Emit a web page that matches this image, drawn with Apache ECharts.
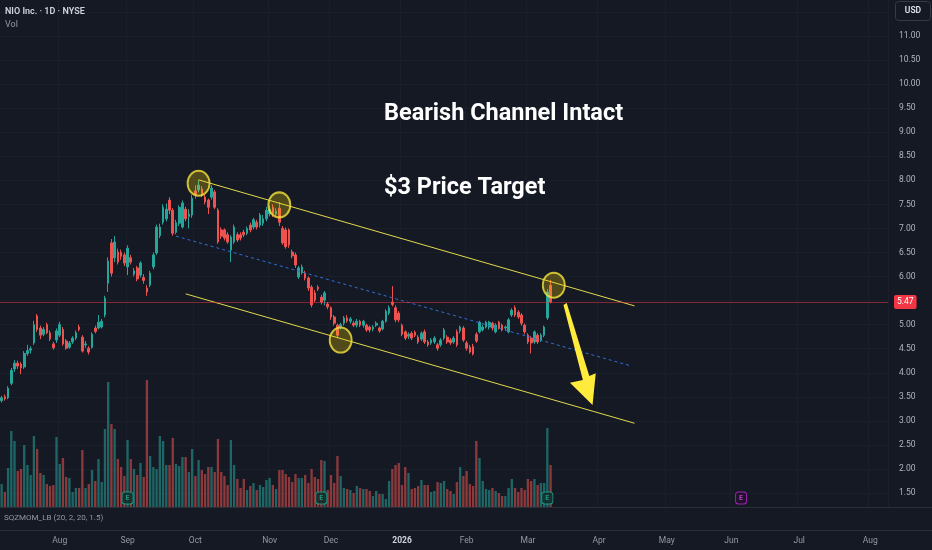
<!DOCTYPE html>
<html>
<head>
<meta charset="utf-8">
<script src="https://cdn.jsdelivr.net/npm/echarts@6/dist/echarts.min.js"></script>
<style>
  html, body { margin: 0; padding: 0; background: #151924; }
  #chart { width: 932px; height: 550px; }
</style>
</head>
<body>
<div id="chart"></div>
<script>
// NIO Inc. daily candles, Jul 2025 - Mar 2026
var opens = [
  3.42,3.50,3.48,3.78,4.08,4.20,4.18,4.12,4.40,4.47,
  4.62,5.18,4.93,4.80,5.00,4.83,4.60,4.68,4.78,4.90,
  4.66,4.53,4.64,4.72,4.95,4.74,4.58,4.51,4.53,4.93,
  4.93,4.95,5.20,5.86,6.70,6.39,6.51,6.50,6.45,6.20,
  6.39,6.05,6.18,6.03,5.98,5.76,5.82,6.20,6.49,6.85,
  7.13,7.20,7.59,7.38,6.92,7.11,7.03,7.40,7.25,7.28,
  7.78,7.80,7.82,7.65,7.59,7.65,7.76,7.38,6.97,6.97,
  6.87,6.55,6.72,6.87,6.87,6.92,6.90,7.07,7.03,7.13,
  7.07,7.11,7.20,7.30,7.44,7.30,7.42,7.00,6.97,6.97,
  6.51,6.45,5.99,6.08,6.07,5.97,5.78,5.66,5.78,5.57,
  5.51,5.43,5.35,5.16,4.99,4.95,5.03,5.14,5.07,5.03,
  4.99,5.07,4.99,4.99,4.95,4.91,4.99,4.93,4.91,5.07,
  5.24,5.47,5.35,5.24,4.99,4.85,4.76,4.82,4.84,4.74,
  4.70,4.85,4.64,4.62,4.64,4.58,4.58,4.72,4.74,4.68,
  4.64,4.85,4.87,4.93,4.62,4.53,4.55,4.80,4.85,4.89,
  4.95,4.95,5.03,4.85,5.05,4.99,4.93,4.85,5.20,5.35,
  5.26,5.20,4.99,4.78,4.72,4.64,4.78,4.68,4.78,5.14,5.82
];
var closes = [
  3.48,3.46,3.68,4.05,4.20,4.14,4.10,4.40,4.46,4.50,
  5.00,4.90,4.78,4.90,4.83,4.70,4.52,4.87,5.00,4.60,
  4.51,4.62,4.72,4.83,4.90,4.45,4.60,4.43,4.80,4.86,
  5.05,5.07,5.55,6.32,6.07,6.72,6.30,6.42,6.28,6.59,
  6.30,6.12,5.95,6.28,5.92,5.68,6.07,6.45,7.03,7.03,
  7.44,7.40,7.38,6.90,7.12,7.44,7.53,7.20,7.30,7.63,
  7.70,7.90,7.70,7.55,7.44,7.84,7.44,6.72,6.84,6.80,
  6.72,6.82,7.03,6.76,6.80,6.87,7.00,6.97,7.18,7.03,
  7.28,7.20,7.38,7.40,7.30,7.36,7.13,6.70,6.62,6.66,
  6.43,6.24,6.18,6.20,5.97,5.76,5.41,5.51,5.74,5.47,
  5.66,5.37,5.16,5.03,4.78,5.00,5.14,5.08,5.12,4.99,
  5.07,4.99,5.07,4.89,4.89,4.95,5.03,4.87,5.07,5.28,
  5.35,5.42,5.10,5.10,4.80,4.72,4.80,4.72,4.78,4.64,
  4.82,4.64,4.58,4.68,4.72,4.51,4.68,4.89,4.64,4.62,
  4.72,4.58,4.95,4.68,4.51,4.43,4.39,4.66,5.05,4.95,
  5.05,5.05,4.93,4.99,4.93,4.89,4.95,5.10,5.30,5.20,
  5.16,5.03,4.85,4.64,4.62,4.85,4.64,4.78,4.95,5.68,5.47
];
var lows = [
  3.38,3.42,3.45,3.74,4.02,4.08,3.97,4.08,4.35,4.40,
  4.58,4.85,4.70,4.76,4.80,4.66,4.48,4.62,4.74,4.56,
  4.48,4.50,4.60,4.68,4.86,4.42,4.52,4.38,4.50,4.82,
  4.90,4.92,5.15,5.68,6.00,6.30,6.25,6.35,6.22,6.03,
  6.25,6.00,5.90,5.98,5.85,5.60,5.78,6.15,6.45,6.80,
  7.08,7.15,7.30,6.85,6.88,7.05,7.00,7.15,7.00,7.22,
  7.62,7.75,7.65,7.50,7.30,7.60,7.40,6.68,6.78,6.75,
  6.68,6.30,6.68,6.72,6.75,6.82,6.86,6.92,6.98,6.98,
  7.02,7.05,7.15,7.25,7.24,7.26,7.05,6.66,6.58,6.60,
  6.38,6.18,5.95,6.04,5.92,5.70,5.36,5.46,5.70,5.42,
  5.40,5.32,5.10,4.98,4.72,4.90,4.98,5.04,5.02,4.95,
  4.94,4.95,4.94,4.85,4.84,4.86,4.95,4.83,4.88,5.04,
  5.20,5.38,5.05,5.05,4.76,4.68,4.70,4.68,4.74,4.60,
  4.66,4.60,4.54,4.58,4.60,4.46,4.54,4.68,4.60,4.58,
  4.60,4.54,4.82,4.64,4.46,4.40,4.36,4.62,4.82,4.86,
  4.92,4.90,4.88,4.82,4.90,4.86,4.88,4.82,5.16,5.16,
  5.12,4.98,4.80,4.60,4.40,4.60,4.60,4.64,4.74,5.10,5.44
];
var highs = [
  3.52,3.55,3.72,4.10,4.26,4.25,4.22,4.45,4.58,4.55,
  5.08,5.22,4.98,4.95,5.04,4.88,4.64,4.92,5.06,4.95,
  4.70,4.66,4.76,4.88,5.00,4.78,4.66,4.55,4.84,4.98,
  5.20,5.12,5.60,6.40,6.78,6.84,6.58,6.56,6.50,6.65,
  6.45,6.18,6.22,6.32,6.05,5.82,6.12,6.50,7.08,7.10,
  7.50,7.52,7.65,7.42,7.18,7.48,7.58,7.45,7.40,7.70,
  7.90,8.00,7.88,7.70,7.62,7.90,7.80,7.42,7.02,7.00,
  6.92,6.86,7.08,6.92,6.92,6.97,7.04,7.12,7.22,7.18,
  7.32,7.28,7.45,7.48,7.50,7.42,7.55,7.05,7.02,7.00,
  6.56,6.50,6.22,6.25,6.12,6.00,5.82,5.72,5.82,5.62,
  5.70,5.47,5.38,5.20,5.02,5.04,5.18,5.20,5.16,5.08,
  5.12,5.10,5.10,5.02,4.98,4.99,5.07,4.96,5.10,5.32,
  5.40,5.80,5.40,5.28,5.02,4.88,4.84,4.86,4.88,4.78,
  4.86,4.90,4.68,4.72,4.76,4.62,4.72,4.93,4.78,4.72,
  4.76,4.90,4.98,4.97,4.66,4.58,4.60,4.84,5.08,5.00,
  5.08,5.08,5.06,5.03,5.08,5.02,4.98,5.14,5.34,5.40,
  5.30,5.24,5.02,4.82,4.76,4.88,4.82,4.82,4.98,5.74,5.93
];
// volume, millions (approx.)
var volumes = [
  23,15,39,76,66,36,38,62,42,32,
  71,58,34,32,23,21,22,70,43,49,
  30,29,15,19,19,57,19,23,37,26,
  48,25,78,125,83,78,48,40,31,67,
  48,38,32,44,30,127,51,40,38,71,
  66,42,42,69,43,41,50,50,35,58,
  31,47,37,33,40,40,35,68,35,31,
  22,67,42,28,19,28,17,21,24,17,
  22,20,27,29,22,18,37,37,33,30,
  25,33,29,29,32,24,38,30,28,47,
  46,17,32,24,51,31,19,18,17,14,
  21,19,18,18,16,11,16,13,13,8,
  26,38,42,44,22,40,34,18,19,21,
  27,22,22,15,16,25,24,26,18,16,
  13,25,40,31,36,23,21,66,49,26,
  18,17,19,16,14,11,11,19,28,19,
  15,19,17,28,26,28,22,24,24,79,42
];

// tick labels on the time scale, in order of month starts
var monthLabels = ['Aug','Sep','Oct','Nov','Dec','2026','Feb','Mar','Apr','May','Jun','Jul','Aug'];
var holidays = ['2025-09-01','2025-11-27','2025-12-25','2026-01-01','2026-01-19','2026-02-16','2026-04-03','2026-05-25','2026-06-19','2026-07-03'];
var totalBars = 275;

// drawings: [bar index, price]
var channelUpper = [[60.5, 8.01], [195.6, 5.39]];
var channelLower = [[57, 5.64], [195.6, 2.95]];
var channelMid   = [[53.6, 6.84], [194.6, 4.14]];
var touchPoints  = [[61.4, 7.94], [86.2, 7.49], [104.8, 4.68], [170.5, 5.82]];
var arrowShape   = [[173.85, 5.41], [175.1, 5.45], [182.2, 3.93], [184.4, 3.99], [182.5, 3.33], [176.0, 3.79], [179.7, 3.85]];
var earnings     = [39, 99, 169];
var nextEarnings = [229];

// trading days
var dates = [];
var d = new Date(Date.UTC(2025, 6, 8));
while (dates.length < totalBars) {
    var wd = d.getUTCDay();
    var s = d.toISOString().slice(0, 10);
    if (wd !== 0 && wd !== 6 && holidays.indexOf(s) < 0) dates.push(s);
    d.setUTCDate(d.getUTCDate() + 1);
}
var monthStarts = [];
for (var i = 1; i < dates.length; i++) {
    if (dates[i].slice(5, 7) !== dates[i - 1].slice(5, 7)) monthStarts.push(i);
}
function isMonthStart(idx) { return monthStarts.indexOf(idx) >= 0; }

var upColor = '#26a69a', downColor = '#ef5350';
var candles = [], vols = [];
for (var i = 0; i < opens.length; i++) {
    candles.push([opens[i], closes[i], lows[i], highs[i]]);
    vols.push({
        value: volumes[i],
        itemStyle: { color: closes[i] >= opens[i] ? 'rgba(38,166,154,0.55)' : 'rgba(239,83,80,0.55)' }
    });
}
var lastClose = closes[closes.length - 1];

var myChart = echarts.init(document.getElementById('chart'));
myChart.setOption({
    backgroundColor: '#151924',
    animation: false,
    textStyle: { fontFamily: 'Roboto' },
    grid: [
        { left: 0, width: 888, top: 12, height: 481 },   // price
        { left: 0, width: 888, top: 0, height: 507 }     // volume overlay
    ],
    xAxis: [
        {
            type: 'category', gridIndex: 0, data: dates,
            axisLine: { show: false }, axisTick: { show: false }, axisLabel: { show: false },
            splitLine: { show: false }
        },
        {
            type: 'category', gridIndex: 1, data: dates,
            axisLine: { show: false }, axisTick: { show: false },
            axisLabel: {
                interval: function (idx) { return isMonthStart(idx); },
                formatter: function (v, idx) {
                    var k = monthStarts.indexOf(idx);
                    var t = k >= 0 ? monthLabels[k] : '';
                    return t === '2026' ? '{y|2026}' : t;
                },
                margin: 29, color: '#9598a1', fontSize: 8.5,
                rich: { y: { fontWeight: 'bold', color: '#d1d4dc', fontSize: 8.5 } }
            },
            splitLine: {
                show: true,
                interval: function (idx) { return isMonthStart(idx); },
                lineStyle: { color: '#1b1f2b', width: 1 }
            }
        }
    ],
    yAxis: [
        {
            type: 'value', gridIndex: 0, position: 'right',
            min: 1.5, max: 11.5, interval: 0.5,
            axisLine: { show: false }, axisTick: { show: false },
            axisLabel: {
                margin: 11, align: 'left', color: '#b2b5be', fontSize: 8.5,
                showMaxLabel: false,
                formatter: function (v) { return v.toFixed(2); }
            },
            splitLine: { lineStyle: { color: '#1b1f2b', width: 1 } }
        },
        {
            type: 'value', gridIndex: 1, min: 0, max: 507, show: false
        }
    ],
    series: [
        {
            name: 'Vol', type: 'bar', xAxisIndex: 1, yAxisIndex: 1,
            data: vols, barWidth: '72%', z: 1
        },
        {
            name: 'NIO', type: 'candlestick', xAxisIndex: 0, yAxisIndex: 0,
            data: candles, barWidth: '66%', z: 3,
            itemStyle: {
                color: upColor, color0: downColor,
                borderColor: upColor, borderColor0: downColor, borderWidth: 1
            },
            markLine: {
                silent: true, symbol: 'none',
                lineStyle: { color: 'rgba(242,54,69,0.5)', type: 'solid', width: 1 },
                label: {
                    position: 'end', distance: 6,
                    formatter: lastClose.toFixed(2),
                    backgroundColor: '#f23645', color: '#ffffff',
                    padding: [3, 3, 2, 3], borderRadius: 2, fontSize: 8.5
                },
                data: [{ yAxis: lastClose }]
            }
        },
        {
            type: 'line', xAxisIndex: 0, yAxisIndex: 0, data: channelUpper,
            symbol: 'none', silent: true, z: 4,
            lineStyle: { color: '#e3d94c', width: 1 }
        },
        {
            type: 'line', xAxisIndex: 0, yAxisIndex: 0, data: channelLower,
            symbol: 'none', silent: true, z: 4,
            lineStyle: { color: '#e3d94c', width: 1 }
        },
        {
            type: 'line', xAxisIndex: 0, yAxisIndex: 0, data: channelMid,
            symbol: 'none', silent: true, z: 4,
            lineStyle: { color: '#2f6fd6', width: 1, type: [3, 3] }
        },
        {
            type: 'scatter', xAxisIndex: 0, yAxisIndex: 0, data: touchPoints,
            symbol: 'circle', symbolSize: [22, 25], silent: true, z: 5,
            itemStyle: { color: 'rgba(255,215,0,0.32)', borderColor: '#f5e53c', borderWidth: 2 }
        },
        {
            type: 'custom', xAxisIndex: 0, yAxisIndex: 0, silent: true, z: 6, clip: false,
            data: [arrowShape[0]],
            renderItem: function (params, api) {
                var pts = arrowShape.map(function (p) { return api.coord(p); });
                return { type: 'polygon', shape: { points: pts }, style: { fill: '#ffeb3b' } };
            }
        },
        {
            type: 'scatter', xAxisIndex: 1, yAxisIndex: 1, silent: true, z: 7,
            data: earnings.map(function (i) { return [i, 9]; }),
            symbol: 'roundRect', symbolSize: [11, 12],
            itemStyle: { color: '#0e2b27', borderColor: '#22ab94', borderWidth: 1 },
            label: { show: true, position: 'inside', formatter: 'E', color: '#22ab94', fontSize: 7, fontWeight: 'bold' }
        },
        {
            type: 'scatter', xAxisIndex: 1, yAxisIndex: 1, silent: true, z: 7,
            data: nextEarnings.map(function (i) { return [i, 9]; }),
            symbol: 'roundRect', symbolSize: [11, 12],
            itemStyle: { color: '#22102a', borderColor: '#c026d3', borderWidth: 1 },
            label: { show: true, position: 'inside', formatter: 'E', color: '#d946ef', fontSize: 7, fontWeight: 'bold' }
        }
    ],
    graphic: [
        { type: 'line', z: 50, shape: { x1: 0, y1: 507.5, x2: 932, y2: 507.5 }, style: { stroke: '#2a2e39', lineWidth: 1 }, silent: true },
        { type: 'line', z: 50, shape: { x1: 0, y1: 530.5, x2: 932, y2: 530.5 }, style: { stroke: '#2a2e39', lineWidth: 1 }, silent: true },
        { type: 'text', z: 50, left: 5, top: 7, style: { text: 'NIO Inc. · 1D · NYSE', fill: '#d1d4dc', font: '600 9px Roboto' }, silent: true },
        { type: 'text', z: 50, left: 5, top: 20, style: { text: 'Vol', fill: '#9598a1', font: '9px Roboto' }, silent: true },
        { type: 'text', z: 50, left: 4, top: 514, style: { text: 'SQZMOM_LB (20, 2, 20, 1.5)', fill: '#9598a1', font: '8px Roboto' }, silent: true },
        { type: 'rect', z: 50, shape: { x: 895.5, y: 1.5, width: 35, height: 19, r: 3 }, style: { fill: '#151924', stroke: '#363a45', lineWidth: 1 }, silent: true },
        { type: 'text', z: 51, x: 913, y: 11, style: { text: 'USD', fill: '#e0e3eb', font: '600 8.5px Roboto', textAlign: 'center', textVerticalAlign: 'middle' }, silent: true },
        { type: 'text', z: 100, x: 384, y: 114, style: { text: 'Bearish Channel Intact', fill: '#ffffff', font: 'bold 23.5px Roboto', textVerticalAlign: 'middle' }, silent: true },
        { type: 'text', z: 100, x: 384, y: 188.5, style: { text: '$3 Price Target', fill: '#ffffff', font: 'bold 23.5px Roboto', textVerticalAlign: 'middle' }, silent: true }
    ]
});
</script>
</body>
</html>
